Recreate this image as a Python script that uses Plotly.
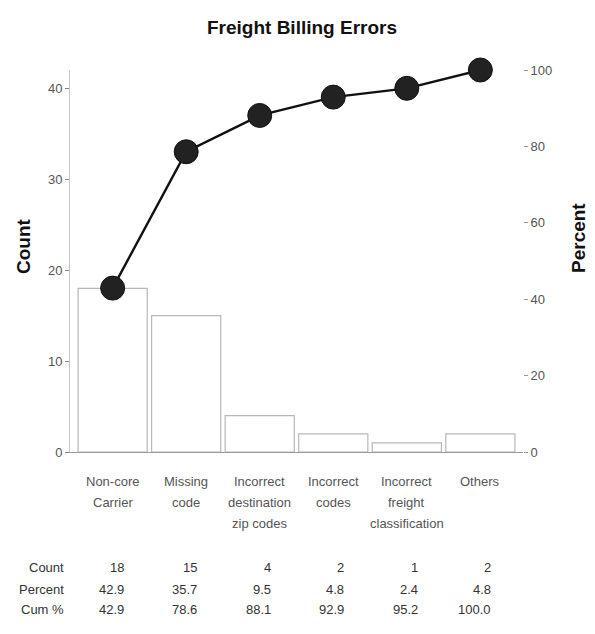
import plotly.graph_objects as go

categories = ["Non-core<br>Carrier", "Missing<br>code", "Incorrect<br>destination<br>zip codes",
              "Incorrect<br>codes", "Incorrect<br>freight<br>classification", "Others"]
counts = [18, 15, 4, 2, 1, 2]
percent = [42.9, 35.7, 9.5, 4.8, 2.4, 4.8]
cum_percent = [42.9, 78.6, 88.1, 92.9, 95.2, 100.0]
count_ticks = [0, 10, 20, 30, 40]
percent_ticks = [0, 20, 40, 60, 80, 100]
row_labels = ["Count", "Percent", "Cum %"]

OFF = 8  # page body margin
W, H = 595 - OFF, 634 - 2 * OFF
L, R, T = 70 - OFF, 72, 70 - OFF
PLOT_BOTTOM = 452  # page pixel of zero line
B = H - (PLOT_BOTTOM - OFF)
plot_w = W - L - R
plot_h = H - T - B
xpos = list(range(len(categories)))

FONT = "Liberation Sans, Arial, sans-serif"
GRAY = "#555555"

fig = go.Figure()
fig.add_trace(go.Bar(x=xpos, y=counts, marker=dict(color="white", line=dict(color="#b8b8b8", width=1.2)),
                     yaxis="y", showlegend=False))
fig.add_trace(go.Scatter(x=xpos, y=cum_percent, yaxis="y2", mode="lines+markers",
                         line=dict(color="#111111", width=2.4),
                         marker=dict(color="#222222", size=24, line=dict(color="#111111", width=1)),
                         cliponaxis=False, showlegend=False))

def py_to_paper(py):
    return (PLOT_BOTTOM - py) / plot_h

def px_to_paper(px):
    return ((px - OFF) - L) / plot_w

annotations = []
# category labels
for i, lab in enumerate(categories):
    for j, line in enumerate(lab.split("<br>")):
        annotations.append(dict(x=i, xref="x", y=py_to_paper(481 + 21 * j), yref="paper",
                                text=line, showarrow=False, xanchor="center", yanchor="middle",
                                font=dict(family=FONT, size=13, color=GRAY)))
# table
rows = [[str(c) for c in counts], [f"{p:.1f}" for p in percent], [f"{c:.1f}" for c in cum_percent]]
row_y = [567, 589, 609]
for r, (name, vals) in enumerate(zip(row_labels, rows)):
    annotations.append(dict(x=-0.58, xref="x", xshift=-4, y=py_to_paper(row_y[r]), yref="paper",
                            text=name, showarrow=False, xanchor="right", yanchor="middle",
                            font=dict(family=FONT, size=13, color="#333333")))
    for i, v in enumerate(vals):
        annotations.append(dict(x=i, xref="x", xshift=13, y=py_to_paper(row_y[r]), yref="paper",
                                text=v, showarrow=False, xanchor="right", yanchor="middle",
                                font=dict(family=FONT, size=13, color="#333333")))
# axis titles
annotations.append(dict(x=px_to_paper(23), xref="paper", y=py_to_paper(246), yref="paper",
                        text="<b>Count</b>", showarrow=False, textangle=-90,
                        xanchor="center", yanchor="middle",
                        font=dict(family=FONT, size=19, color="#111111")))
annotations.append(dict(x=px_to_paper(578), xref="paper", y=py_to_paper(238), yref="paper",
                        text="<b>Percent</b>", showarrow=False, textangle=-90,
                        xanchor="center", yanchor="middle",
                        font=dict(family=FONT, size=19, color="#111111")))

fig.update_layout(
    width=W, height=H, margin=dict(l=L, r=R, t=T, b=B),
    paper_bgcolor="white", plot_bgcolor="white",
    title=dict(text="<b>Freight Billing Errors</b>", x=(302 - OFF) / W, xanchor="center",
               y=1 - (27 - OFF) / H, yanchor="middle",
               font=dict(family=FONT, size=19, color="#111111")),
    bargap=0.06,
    xaxis=dict(range=[-0.58, 5.58], showticklabels=False, ticks="", showgrid=False,
               zeroline=False, showline=True, linecolor="#9a9a9a", linewidth=1),
    yaxis=dict(range=[0, 42], tickvals=count_ticks, ticks="outside", ticklen=4, tickcolor="#888",
               showgrid=False, zeroline=False, showline=True, linecolor="#c8c8c8", linewidth=1,
               tickfont=dict(family=FONT, size=13, color=GRAY)),
    yaxis2=dict(range=[0, 100], tickvals=percent_ticks, overlaying="y", side="right",
                ticks="outside", ticklen=4, tickcolor="#999", showgrid=False, zeroline=False,
                showline=False, tickfont=dict(family=FONT, size=13, color=GRAY)),
    annotations=annotations,
)

fig.write_html("out.html")
